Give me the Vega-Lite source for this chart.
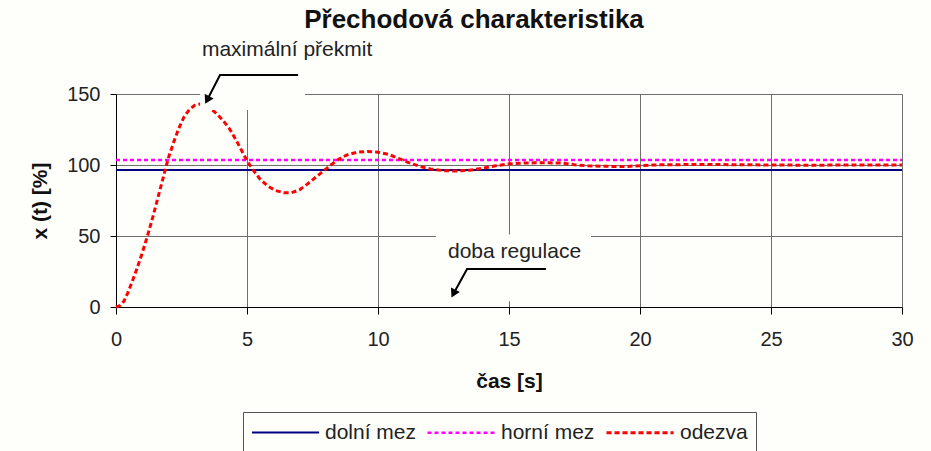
{
  "$schema": "https://vega.github.io/schema/vega-lite/v6.json",
  "autosize": "none",
  "width": 786,
  "height": 213,
  "padding": {"left": 116, "top": 94, "right": 29, "bottom": 144},
  "background": "#fefefb",
  "config": {"font": "Liberation Sans", "view": {"stroke": null}},
  "title": {"text": "Přechodová charakteristika", "fontSize": 26, "fontWeight": "bold", "color": "#111", "anchor": "middle", "frame": "group", "dx": -35, "offset": 6},
  "datasets": {
    "series": [
      {"t": 0, "v": 96.5, "s": "dolní mez"}, {"t": 30, "v": 96.5, "s": "dolní mez"},
      {"t": 0, "v": 103.5, "s": "horní mez"}, {"t": 30, "v": 103.5, "s": "horní mez"},
      {"t": 0, "v": 0, "s": "odezva"}, {"t": 0.15, "v": 1, "s": "odezva"}, {"t": 0.3, "v": 4, "s": "odezva"},
      {"t": 0.45, "v": 10, "s": "odezva"}, {"t": 0.6, "v": 17, "s": "odezva"}, {"t": 0.8, "v": 27, "s": "odezva"},
      {"t": 1.0, "v": 38, "s": "odezva"}, {"t": 1.2, "v": 50, "s": "odezva"}, {"t": 1.4, "v": 63, "s": "odezva"},
      {"t": 1.6, "v": 77, "s": "odezva"}, {"t": 1.8, "v": 91, "s": "odezva"}, {"t": 2.0, "v": 105, "s": "odezva"},
      {"t": 2.2, "v": 116, "s": "odezva"}, {"t": 2.4, "v": 126, "s": "odezva"}, {"t": 2.6, "v": 134, "s": "odezva"},
      {"t": 2.8, "v": 139, "s": "odezva"}, {"t": 3.0, "v": 142, "s": "odezva"}, {"t": 3.2, "v": 143, "s": "odezva"},
      {"t": 3.4, "v": 142.5, "s": "odezva"}, {"t": 3.6, "v": 140, "s": "odezva"}, {"t": 3.85, "v": 136, "s": "odezva"},
      {"t": 4.1, "v": 131, "s": "odezva"}, {"t": 4.35, "v": 125, "s": "odezva"}, {"t": 4.6, "v": 117, "s": "odezva"},
      {"t": 4.8, "v": 110, "s": "odezva"}, {"t": 5.0, "v": 103, "s": "odezva"}, {"t": 5.25, "v": 96, "s": "odezva"},
      {"t": 5.5, "v": 90, "s": "odezva"}, {"t": 5.8, "v": 85, "s": "odezva"}, {"t": 6.1, "v": 82, "s": "odezva"},
      {"t": 6.4, "v": 80.5, "s": "odezva"}, {"t": 6.7, "v": 80.5, "s": "odezva"}, {"t": 7.0, "v": 82.5, "s": "odezva"},
      {"t": 7.3, "v": 86.5, "s": "odezva"}, {"t": 7.6, "v": 91, "s": "odezva"}, {"t": 7.9, "v": 95.5, "s": "odezva"},
      {"t": 8.2, "v": 100, "s": "odezva"}, {"t": 8.5, "v": 104, "s": "odezva"}, {"t": 8.8, "v": 107, "s": "odezva"},
      {"t": 9.2, "v": 109, "s": "odezva"}, {"t": 9.6, "v": 109.5, "s": "odezva"}, {"t": 10.0, "v": 109, "s": "odezva"},
      {"t": 10.4, "v": 107.5, "s": "odezva"}, {"t": 10.8, "v": 104.5, "s": "odezva"}, {"t": 11.2, "v": 101.5, "s": "odezva"},
      {"t": 11.6, "v": 99, "s": "odezva"}, {"t": 12.0, "v": 97.2, "s": "odezva"}, {"t": 12.5, "v": 96, "s": "odezva"},
      {"t": 13.0, "v": 95.7, "s": "odezva"}, {"t": 13.5, "v": 96.3, "s": "odezva"}, {"t": 14.0, "v": 97.8, "s": "odezva"},
      {"t": 14.5, "v": 99.5, "s": "odezva"}, {"t": 15.0, "v": 100.8, "s": "odezva"}, {"t": 15.5, "v": 101.3, "s": "odezva"},
      {"t": 16.0, "v": 101.5, "s": "odezva"}, {"t": 16.5, "v": 101.5, "s": "odezva"}, {"t": 17.0, "v": 101.4, "s": "odezva"},
      {"t": 17.5, "v": 100.2, "s": "odezva"}, {"t": 18.0, "v": 99.4, "s": "odezva"}, {"t": 18.5, "v": 99.1, "s": "odezva"},
      {"t": 19.0, "v": 99, "s": "odezva"}, {"t": 19.5, "v": 99, "s": "odezva"}, {"t": 20.0, "v": 99.5, "s": "odezva"},
      {"t": 20.5, "v": 100, "s": "odezva"}, {"t": 21.0, "v": 100.2, "s": "odezva"}, {"t": 22, "v": 100.3, "s": "odezva"},
      {"t": 23, "v": 100.3, "s": "odezva"}, {"t": 24, "v": 100.2, "s": "odezva"}, {"t": 25, "v": 100, "s": "odezva"},
      {"t": 26, "v": 99.9, "s": "odezva"}, {"t": 27, "v": 99.9, "s": "odezva"}, {"t": 28, "v": 100, "s": "odezva"},
      {"t": 29, "v": 100, "s": "odezva"}, {"t": 30, "v": 100, "s": "odezva"}
    ],
    "boxes": [
      {"t": 3.21, "t2": 7.21, "v": 138.7, "v2": 165},
      {"t": 12.21, "t2": 18.13, "v": 4, "v2": 51}
    ],
    "arrows": [
      {"a": 1, "o": 1, "t": 6.95, "v": 163.4},
      {"a": 1, "o": 2, "t": 3.97, "v": 163.4},
      {"a": 1, "o": 3, "t": 3.48, "v": 145.8},
      {"a": 2, "o": 1, "t": 16.41, "v": 26.8},
      {"a": 2, "o": 2, "t": 13.4, "v": 26.8},
      {"a": 2, "o": 3, "t": 12.88, "v": 9.4}
    ],
    "heads": [
      {"t": 3.48, "v": 145.8},
      {"t": 12.88, "v": 9.4}
    ],
    "notes": [
      {"t": 6.53, "v": 181, "label": "maximální překmit"},
      {"t": 15.21, "v": 38.7, "label": "doba regulace"}
    ]
  },
  "encoding": {
    "x": {
      "field": "t", "type": "quantitative",
      "scale": {"domain": [0, 30], "nice": false},
      "axis": {
        "title": "čas [s]", "values": [0, 5, 10, 15, 20, 25, 30],
        "grid": true, "gridColor": "#6e6e6e", "gridWidth": 1,
        "domainColor": "#000", "tickColor": "#000", "tickSize": 7,
        "labelFontSize": 20, "labelColor": "#222", "labelPadding": 15, "labelFlush": false,
        "titleFontSize": 21, "titleFontWeight": "bold", "titleColor": "#111", "titlePadding": 21
      }
    },
    "y": {
      "field": "v", "type": "quantitative",
      "scale": {"domain": [0, 150], "nice": false},
      "axis": {
        "title": "x (t) [%]", "values": [0, 50, 100, 150],
        "grid": true, "gridColor": "#6e6e6e", "gridWidth": 1,
        "domainColor": "#000", "tickColor": "#000", "tickSize": 6,
        "labelFontSize": 20, "labelColor": "#222", "labelPadding": 10, "labelFlush": false,
        "titleFontSize": 21, "titleFontWeight": "bold", "titleColor": "#111", "titlePadding": 16
      }
    }
  },
  "layer": [
    {
      "data": {"name": "series"},
      "mark": {"type": "line", "strokeCap": "butt"},
      "encoding": {
        "color": {
          "field": "s", "type": "nominal",
          "scale": {"domain": ["dolní mez", "horní mez", "odezva"], "range": ["#000080", "#ff00ff", "#ff0000"]},
          "legend": {
            "orient": "none", "legendX": 127, "legendY": 318, "direction": "horizontal", "title": null,
            "symbolType": "M-1,0H5.1", "symbolSize": 484, "symbolStrokeWidth": 3,
            "labelFontSize": 21, "labelColor": "#222", "labelOffset": 50, "columnPadding": 5,
            "strokeColor": "#555", "padding": 8, "fillColor": "#fefefb"
          }
        },
        "strokeDash": {
          "field": "s", "type": "nominal",
          "scale": {"domain": ["dolní mez", "horní mez", "odezva"], "range": [[1, 0], [4, 3], [5, 3]]},
          "legend": {
            "orient": "none", "legendX": 127, "legendY": 318, "direction": "horizontal", "title": null,
            "symbolType": "M-1,0H5.1", "symbolSize": 484, "symbolStrokeWidth": 3,
            "labelFontSize": 21, "labelColor": "#222", "labelOffset": 50, "columnPadding": 5,
            "strokeColor": "#555", "padding": 8, "fillColor": "#fefefb"
          }
        },
        "strokeWidth": {
          "field": "s", "type": "nominal",
          "scale": {"domain": ["dolní mez", "horní mez", "odezva"], "range": [2, 3, 3]},
          "legend": null
        }
      }
    },
    {
      "data": {"name": "boxes"},
      "mark": {"type": "rect", "fill": "#fefefb", "clip": false},
      "encoding": {"x2": {"field": "t2"}, "y2": {"field": "v2"}}
    },
    {
      "data": {"name": "arrows"},
      "mark": {"type": "line", "color": "#000", "strokeWidth": 2, "clip": false},
      "encoding": {"detail": {"field": "a", "type": "nominal"}, "order": {"field": "o", "type": "quantitative"}}
    },
    {
      "data": {"name": "heads"},
      "mark": {"type": "point", "shape": "triangle-up", "filled": true, "color": "#000", "opacity": 1, "size": 100, "angle": 207, "clip": false},
      "encoding": {}
    },
    {
      "data": {"name": "notes"},
      "mark": {"type": "text", "fontSize": 21, "color": "#222", "align": "center", "baseline": "middle", "clip": false},
      "encoding": {"text": {"field": "label", "type": "nominal"}}
    }
  ]
}
